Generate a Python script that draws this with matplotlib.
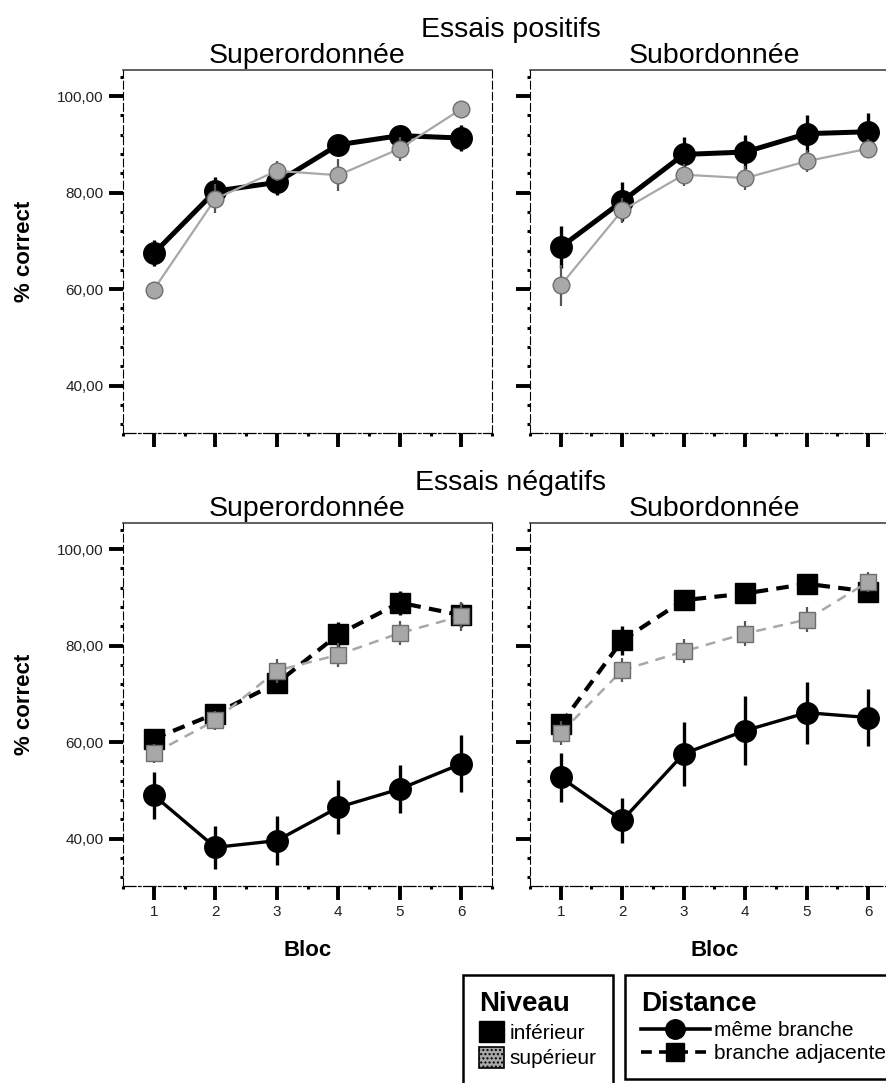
import matplotlib
matplotlib.use('Agg')
import matplotlib.pyplot as plt
from matplotlib.lines import Line2D
from matplotlib.patches import Patch
from matplotlib.ticker import MultipleLocator, FuncFormatter

plt.rcParams['font.family'] = ['Liberation Sans', 'DejaVu Sans']

# blocs d'essais
bloc = [1, 2, 3, 4, 5, 6]

# essais positifs - superordonnée
pos_super_inf = [67.4, 80.3, 82.1, 89.9, 91.8, 91.3]
pos_super_inf_err = [2.7, 3.0, 2.5, 2.0, 1.5, 2.7]
pos_super_sup = [59.9, 78.7, 84.5, 83.6, 89.1, 97.3]
pos_super_sup_err = [1.5, 3.0, 2.0, 3.3, 2.5, 1.0]

# essais positifs - subordonnée
pos_sub_inf = [68.7, 78.2, 87.9, 88.4, 92.2, 92.6]
pos_sub_inf_err = [4.3, 4.0, 3.7, 3.6, 3.8, 3.8]
pos_sub_sup = [60.8, 76.3, 83.7, 83.0, 86.5, 89.1]
pos_sub_sup_err = [4.3, 2.5, 2.3, 2.5, 2.3, 2.0]

# essais négatifs - superordonnée
neg_super_inf_meme = [49.0, 38.2, 39.6, 46.5, 50.3, 55.5]
neg_super_inf_meme_err = [4.9, 4.5, 5.0, 5.6, 5.0, 5.9]
neg_super_inf_adj = [60.7, 65.9, 72.2, 82.3, 88.9, 86.3]
neg_super_inf_adj_err = [1.8, 2.0, 2.0, 2.5, 2.5, 2.5]
neg_super_sup_adj = [57.7, 64.5, 74.8, 78.1, 82.6, 86.1]
neg_super_sup_adj_err = [2.0, 2.0, 2.5, 2.5, 2.5, 3.0]

# essais négatifs - subordonnée
neg_sub_inf_meme = [52.7, 43.8, 57.6, 62.4, 66.1, 65.1]
neg_sub_inf_meme_err = [5.0, 4.7, 6.6, 7.2, 6.4, 6.0]
neg_sub_inf_adj = [63.7, 81.1, 89.4, 90.8, 92.8, 91.2]
neg_sub_inf_adj_err = [2.0, 3.0, 1.0, 1.0, 1.0, 2.0]
neg_sub_sup_adj = [61.9, 74.9, 78.8, 82.5, 85.4, 93.2]
neg_sub_sup_adj_err = [2.5, 2.5, 2.5, 2.5, 2.5, 2.0]

GRAY = '#a8a8a8'
GRAY_EDGE = '#6e6e6e'

fig = plt.figure(figsize=(8.87, 10.83), dpi=100)
W, H = 0.416, 0.3352
ax_ps = fig.add_axes([0.1387, 0.6002, W, H])
ax_pb = fig.add_axes([0.5975, 0.6002, W, H])
ax_ns = fig.add_axes([0.1387, 0.1819, W, H])
ax_nb = fig.add_axes([0.5975, 0.1819, W, H])


def style(ax, ylabels, xlabels, title):
    ax.set_xlim(0.5, 6.5)
    ax.set_ylim(30.2, 105.4)
    ax.xaxis.set_major_locator(MultipleLocator(1))
    ax.xaxis.set_minor_locator(MultipleLocator(0.5))
    ax.yaxis.set_major_locator(MultipleLocator(20))
    ax.yaxis.set_minor_locator(MultipleLocator(4))
    ax.yaxis.set_major_formatter(FuncFormatter(lambda v, p: f'{v:.2f}'.replace('.', ',')))
    ax.tick_params(which='major', direction='out', length=10, width=2.8,
                   labelsize=11, pad=4, labelcolor='#222222')
    ax.tick_params(which='minor', direction='out', length=2.2, width=2.2)
    ax.tick_params(labelleft=ylabels, labelbottom=xlabels)
    for side in ('left', 'right'):
        ax.spines[side].set_linestyle((0, (7, 3)))
        ax.spines[side].set_linewidth(0.8)
    ax.spines['top'].set_color('#444444')
    ax.spines['top'].set_linewidth(1.2)
    ax.spines['bottom'].set_linestyle((0, (10, 2, 2, 2)))
    ax.spines['bottom'].set_linewidth(0.9)
    ax.set_title(title, fontsize=20.5, pad=5)
    if ylabels:
        ax.set_ylabel('% correct', fontsize=16, fontweight='bold')
        ax.yaxis.set_label_coords(-0.238, 0.5)
    if xlabels:
        ax.set_xlabel('Bloc', fontsize=16, fontweight='bold')
        ax.xaxis.set_label_coords(0.5, -0.15)


def serie(ax, y, err, marker, black, dashed, lw):
    face = 'black' if black else GRAY
    edge = 'black' if black else GRAY_EDGE
    ls = '-' if not dashed else ((0, (3, 2)) if black else (0, (4, 3)))
    ms = (15.5 if marker == 'o' else 14) if black else (12 if marker == 'o' else 11.5)
    ax.errorbar(bloc, y, yerr=err, fmt=marker, ls=ls, color=face if black else GRAY,
                lw=lw, ms=ms, mfc=face, mec=edge, mew=1,
                ecolor='black' if black else '#555555',
                elinewidth=2.4 if black else 1.6, capsize=0,
                zorder=3 if black else 4)


# essais positifs
serie(ax_ps, pos_super_inf, pos_super_inf_err, 'o', True, False, 3.6)
serie(ax_ps, pos_super_sup, pos_super_sup_err, 'o', False, False, 1.6)
serie(ax_pb, pos_sub_inf, pos_sub_inf_err, 'o', True, False, 3.6)
serie(ax_pb, pos_sub_sup, pos_sub_sup_err, 'o', False, False, 1.6)

# essais négatifs
serie(ax_ns, neg_super_inf_meme, neg_super_inf_meme_err, 'o', True, False, 2.4)
serie(ax_ns, neg_super_inf_adj, neg_super_inf_adj_err, 's', True, True, 3.0)
serie(ax_ns, neg_super_sup_adj, neg_super_sup_adj_err, 's', False, True, 1.8)
serie(ax_nb, neg_sub_inf_meme, neg_sub_inf_meme_err, 'o', True, False, 2.4)
serie(ax_nb, neg_sub_inf_adj, neg_sub_inf_adj_err, 's', True, True, 3.0)
serie(ax_nb, neg_sub_sup_adj, neg_sub_sup_adj_err, 's', False, True, 1.8)

style(ax_ps, True, False, 'Superordonnée')
style(ax_pb, False, False, 'Subordonnée')
style(ax_ns, True, True, 'Superordonnée')
style(ax_nb, False, True, 'Subordonnée')

fig.text(0.576, 0.972, 'Essais positifs', fontsize=20.5, ha='center', va='center')
fig.text(0.576, 0.554, 'Essais négatifs', fontsize=20.5, ha='center', va='center')

# légendes
niveau = [Patch(facecolor='black', edgecolor='black'),
          Patch(facecolor=GRAY, edgecolor='black', hatch='....', linewidth=1.2)]
leg1 = fig.legend(niveau, ['inférieur', 'supérieur'], title='Niveau',
                  loc='upper left', bbox_to_anchor=(0.522, 0.0997),
                  fontsize=15, title_fontproperties={'size': 20, 'weight': 'bold'},
                  alignment='left', handlelength=1.2, handleheight=1.2,
                  handletextpad=0.3, labelspacing=0.2, borderpad=0.75,
                  borderaxespad=0, fancybox=False, edgecolor='black', framealpha=1)
leg1.get_frame().set_linewidth(1.8)

distance = [Line2D([], [], color='black', lw=2.6, marker='o', ms=14),
            Line2D([], [], color='black', lw=2.6, ls=(0, (3, 2)), marker='s', ms=13)]
leg2 = fig.legend(distance, ['même branche', 'branche adjacente'], title='Distance',
                  loc='upper left', bbox_to_anchor=(0.705, 0.0997),
                  fontsize=15, title_fontproperties={'size': 20, 'weight': 'bold'},
                  alignment='left', handlelength=3.3, handletextpad=0.2,
                  labelspacing=0.2, borderpad=0.75, borderaxespad=0,
                  fancybox=False, edgecolor='black', framealpha=1)
leg2.get_frame().set_linewidth(1.8)

fig.savefig('out.png', dpi=100)
